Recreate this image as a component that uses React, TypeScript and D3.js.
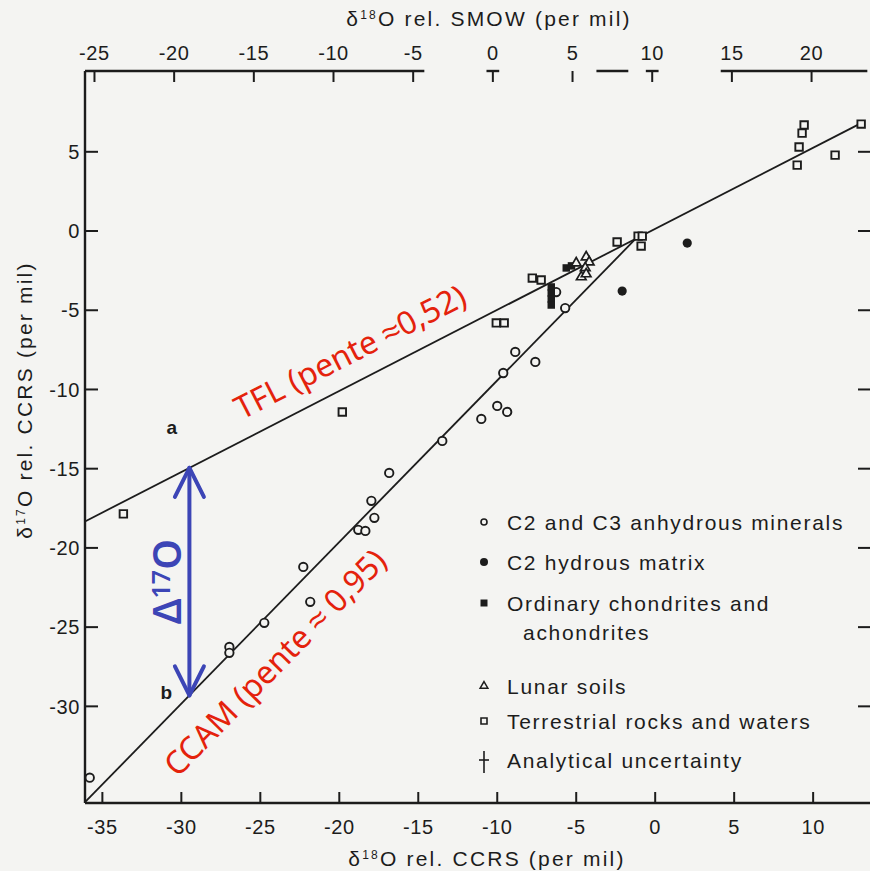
import * as d3 from 'd3';

const W = 870;
const H = 871;

// axes (per mil, CCRS on bottom/left, SMOW on top)
const xDomain = [-36.1, 13.6];
const yDomain = [-36.1, 10.1];
const xTicks = [-35, -30, -25, -20, -15, -10, -5, 0, 5, 10];
const yTicks = [5, 0, -5, -10, -15, -20, -25, -30];
const smowTicks = [-25, -20, -15, -10, -5, 0, 5, 10, 15, 20];
const smowRef = [-25, 20];
const smowRefCcrs = [-35.5, 9.9];
// visible pieces of the (faded) top axis line, SMOW units
const topAxisPieces = [[-26.5, -4.3], [-0.4, 0.4], [6.5, 8.5], [9.6, 10.4], [14.3, 23.5]];

// C2 and C3 anhydrous minerals
const anhydrous = [
  [-35.8, -34.5], [-5.7, -4.86], [-8.86, -7.63], [-7.59, -8.26], [-9.62, -8.96],
  [-10.0, -11.04], [-9.37, -11.42], [-11.01, -11.86], [-13.48, -13.25], [-16.84, -15.27],
  [-17.97, -17.03], [-17.78, -18.1], [-18.8, -18.86], [-18.35, -18.93], [-22.28, -21.2],
  [-21.84, -23.4], [-24.75, -24.73], [-26.96, -26.25], [-26.96, -26.62], [-6.27, -3.85],
];
// C2 hydrous matrix
const hydrous = [[2.03, -0.76], [-2.09, -3.79]];
// Ordinary chondrites and achondrites
const ordinary = [
  [-5.63, -2.33], [-5.3, -2.2], [-6.58, -3.53], [-6.58, -3.91], [-6.58, -4.29], [-6.58, -4.67],
];
// Lunar soils
const lunar = [
  [-5.0, -2.02], [-4.37, -1.64], [-4.18, -1.96], [-4.43, -2.33], [-4.68, -2.9], [-4.37, -2.71],
];
// Terrestrial rocks and waters
const terrestrial = [
  [-33.67, -17.85], [-19.81, -11.42], [-7.78, -2.97], [-7.22, -3.09], [-10.06, -5.8],
  [-9.56, -5.8], [-2.41, -0.69], [-1.08, -0.32], [-0.82, -0.32], [-0.89, -0.95],
  [9.43, 6.69], [9.3, 6.18], [9.11, 5.3], [8.99, 4.16], [11.39, 4.79], [13.04, 6.75],
];

const tflLine = [[-36.1, -18.33], [13.04, 6.81]];
const ccamLine = [[-36.1, -36.05], [-1.0, -0.25]];
const deltaX = -29.49;
const letters = [
  { t: 'a', x: -30.6, y: -12.4 },
  { t: 'b', x: -30.95, y: -29.1 },
];

const legendItems = [
  { kind: 'open', lines: ['C2 and C3 anhydrous minerals'] },
  { kind: 'dot', lines: ['C2 hydrous matrix'] },
  { kind: 'fsq', lines: ['Ordinary chondrites and', 'achondrites'] },
  { kind: 'tri', lines: ['Lunar soils'] },
  { kind: 'osq', lines: ['Terrestrial rocks and waters'] },
  { kind: 'err', lines: ['Analytical uncertainty'] },
];
const legendRows = [522, 562, 603, 686, 721, 760];

const INK = '#1c1c1c';
const BG = '#f4f4f2';
const RED = '#e4220c';
const BLUE = '#3c45b6';
const FONT = '"Liberation Sans", Arial, Helvetica, sans-serif';
const HAND = '"Comic Sans MS", "Noto Sans", sans-serif';

const x = d3.scaleLinear().domain(xDomain).range([85, 870]);
const y = d3.scaleLinear().domain(yDomain).range([803, 71]);
const xTop = d3.scaleLinear().domain(smowRef).range(smowRefCcrs.map((v) => x(v)));

const lineAt = (ln: number[][], xv: number) =>
  d3.scaleLinear().domain([ln[0][0], ln[1][0]]).range([ln[0][1], ln[1][1]])(xv);

function alongLine(ln: number[][], xv: number, offset: number) {
  const ang = Math.atan2(y(ln[1][1]) - y(ln[0][1]), x(ln[1][0]) - x(ln[0][0]));
  const fx = x(xv);
  const fy = y(lineAt(ln, xv));
  return {
    cx: fx + Math.sin(ang) * offset,
    cy: fy - Math.cos(ang) * offset,
    deg: (ang * 180) / Math.PI,
  };
}

const sym = (type: d3.SymbolType, size: number) => d3.symbol().type(type).size(size)()!;

function Marker({ kind, cx, cy, small }: { kind: string; cx: number; cy: number; small?: boolean }) {
  const t = `translate(${cx},${cy})`;
  if (kind === 'open')
    return <circle cx={cx} cy={cy} r={small ? 3 : 4.2} fill={BG} stroke={INK} strokeWidth={small ? 1.6 : 1.9} />;
  if (kind === 'dot') return <circle cx={cx} cy={cy} r={small ? 4 : 4.6} fill={INK} />;
  if (kind === 'fsq') return <path transform={t} d={sym(d3.symbolSquare, small ? 49 : 56)} fill={INK} />;
  if (kind === 'osq')
    return (
      <path transform={t} d={sym(d3.symbolSquare, small ? 36 : 56)} fill={BG} stroke={INK} strokeWidth={small ? 1.6 : 1.9} />
    );
  if (kind === 'tri')
    return (
      <path transform={t} d={sym(d3.symbolTriangle, small ? 26 : 40)} fill={BG} stroke={INK} strokeWidth={small ? 1.5 : 1.7} />
    );
  return (
    <g stroke={INK} strokeWidth={1.6}>
      <line x1={cx} x2={cx} y1={cy - 9} y2={cy + 13} />
      <line x1={cx - 5} x2={cx + 5} y1={cy} y2={cy} />
    </g>
  );
}

export default function App() {
  const tflLabel = alongLine(tflLine, -18.46, 31);
  const ccamLabel = alongLine(ccamLine, -25.8, -37);
  const ax = x(deltaX);
  const aTop = y(lineAt(tflLine, deltaX));
  const aBot = y(lineAt(ccamLine, deltaX));
  const x0 = x.range()[0];
  const x1 = x.range()[1];
  const y0 = y.range()[0];
  const y1 = y.range()[1];

  const series: [string, number[][]][] = [
    ['osq', terrestrial],
    ['open', anhydrous],
    ['dot', hydrous],
    ['fsq', ordinary],
    ['tri', lunar],
  ];

  return (
    <svg width={W} height={H} style={{ position: 'absolute', left: 0, top: 0, background: BG }} fontFamily={FONT}>
      <rect width={W} height={H} fill={BG} />

      {/* axis titles */}
      <text x={489} y={26} textAnchor="middle" fontSize={21} letterSpacing={2.2} fill={INK}>
        δ<tspan fontSize={12} dy={-7}>18</tspan>
        <tspan dy={7}>O rel. SMOW (per mil)</tspan>
      </text>
      <text x={487} y={866} textAnchor="middle" fontSize={21} letterSpacing={2.2} fill={INK}>
        δ<tspan fontSize={12} dy={-7}>18</tspan>
        <tspan dy={7}>O rel. CCRS (per mil)</tspan>
      </text>
      <text transform="translate(32,400) rotate(-90)" textAnchor="middle" fontSize={21} letterSpacing={2.2} fill={INK}>
        δ<tspan fontSize={12} dy={-7}>17</tspan>
        <tspan dy={7}>O rel. CCRS (per mil)</tspan>
      </text>

      {/* frame */}
      <g stroke={INK} strokeWidth={2.4} fill="none">
        <line x1={x0} x2={x0} y1={y1} y2={y0} />
        <line x1={x0} x2={x1} y1={y0} y2={y0} />
        {topAxisPieces.map(([a, b], i) => (
          <line key={i} x1={Math.max(x0, xTop(a))} x2={Math.min(x1, xTop(b))} y1={y1} y2={y1} />
        ))}
      </g>

      {/* ticks */}
      <g stroke={INK} strokeWidth={2}>
        {xTicks.map((t) => (
          <line key={`b${t}`} x1={x(t)} x2={x(t)} y1={y0} y2={y0 - 11} />
        ))}
        {smowTicks.map((t) => (
          <line key={`t${t}`} x1={xTop(t)} x2={xTop(t)} y1={y1} y2={y1 + 11} />
        ))}
        {yTicks.map((t) => (
          <line key={`l${t}`} x1={x0} x2={x0 + 13} y1={y(t)} y2={y(t)} />
        ))}
        {yTicks.map((t) => (
          <line key={`r${t}`} x1={x1 - 12} x2={x1} y1={y(t)} y2={y(t)} />
        ))}
      </g>
      <g fill={INK} fontSize={20} letterSpacing={0.6}>
        {xTicks.map((t) => (
          <text key={t} x={x(t)} y={834} textAnchor="middle">
            {t < 0 ? `-${-t}` : t}
          </text>
        ))}
        {smowTicks.map((t) => (
          <text key={t} x={xTop(t)} y={60} textAnchor="middle">
            {t < 0 ? `-${-t}` : t}
          </text>
        ))}
        {yTicks.map((t) => (
          <text key={t} x={80} y={y(t)} dy="0.36em" textAnchor="end">
            {t < 0 ? `-${-t}` : t}
          </text>
        ))}
      </g>

      {/* reference lines */}
      <g stroke={INK} strokeWidth={1.8}>
        {[tflLine, ccamLine].map((ln, i) => (
          <line key={i} x1={x(ln[0][0])} y1={y(ln[0][1])} x2={x(ln[1][0])} y2={y(ln[1][1])} />
        ))}
      </g>

      {/* data */}
      {series.map(([kind, pts]) =>
        pts.map((p, i) => <Marker key={`${kind}${i}`} kind={kind} cx={x(p[0])} cy={y(p[1])} />),
      )}

      {letters.map((l) => (
        <text key={l.t} x={x(l.x)} y={y(l.y)} dy="0.35em" textAnchor="middle" fontSize={19} fontWeight={700} fill={INK}>
          {l.t}
        </text>
      ))}

      {/* legend */}
      {legendItems.map((item, i) => (
        <g key={i}>
          <Marker kind={item.kind} cx={484} cy={legendRows[i]} small />
          {item.lines.map((s, j) => (
            <text
              key={j}
              x={j === 0 ? 507 : 523}
              y={legendRows[i] + j * 29}
              dy="0.36em"
              fontSize={21}
              letterSpacing={1.7}
              fill={INK}
            >
              {s}
            </text>
          ))}
        </g>
      ))}

      {/* annotations */}
      <text
        transform={`translate(${tflLabel.cx},${tflLabel.cy}) rotate(${tflLabel.deg})`}
        textAnchor="middle"
        dominantBaseline="central"
        fontFamily={HAND}
        fontSize={32}
        fill={RED}
      >
        TFL (pente ≈0,52)
      </text>
      <text
        transform={`translate(${ccamLabel.cx},${ccamLabel.cy}) rotate(${ccamLabel.deg})`}
        textAnchor="middle"
        dominantBaseline="central"
        fontFamily={HAND}
        fontSize={32}
        fill={RED}
      >
        CCAM (pente ≈ 0,95)
      </text>

      <g stroke={BLUE} strokeWidth={4} fill="none" strokeLinecap="round" strokeLinejoin="round">
        <line x1={ax} x2={ax} y1={aTop} y2={aBot} />
        <polyline points={`${ax - 14.5},${aTop + 29} ${ax},${aTop} ${ax + 14.5},${aTop + 29}`} />
        <polyline points={`${ax - 14.5},${aBot - 29} ${ax},${aBot} ${ax + 14.5},${aBot - 29}`} />
      </g>
      <text
        transform={`translate(${ax - 8},${(aTop + aBot) / 2}) rotate(-90)`}
        textAnchor="middle"
        fontFamily={'"Noto Sans", sans-serif'}
        fontSize={39}
        fontWeight={600}
        fill={BLUE}
      >
        Δ<tspan fontSize={25} dy={-11}>17</tspan>
        <tspan dy={11}>O</tspan>
      </text>
    </svg>
  );
}
